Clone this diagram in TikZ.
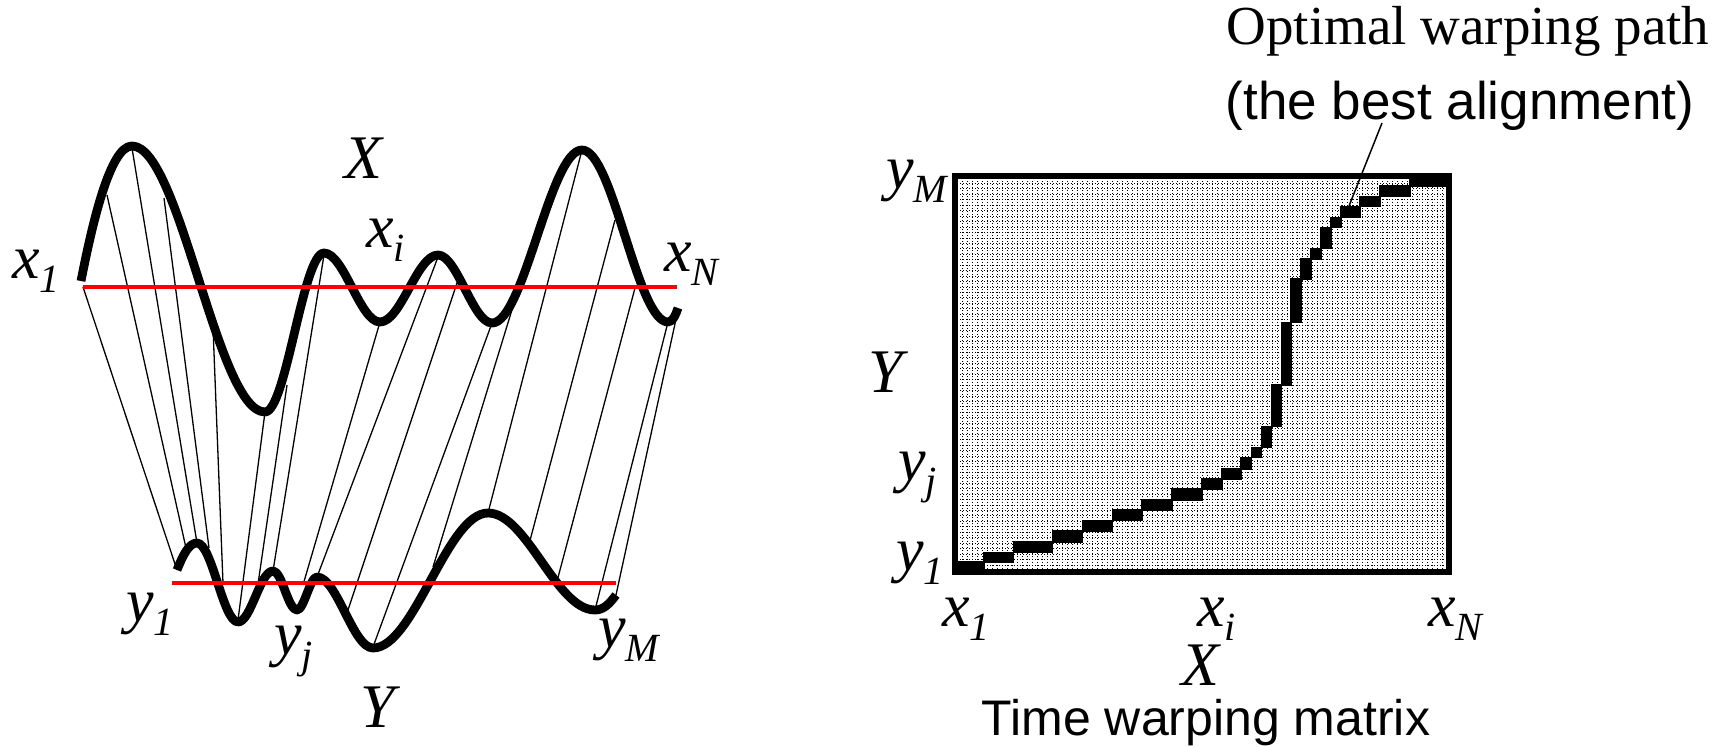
\documentclass[tikz,border=0pt]{standalone}
\usepackage{fontspec}
\setmainfont{Liberation Serif}
\newfontfamily\arialfam{Liberation Sans}
\newcommand\sbs[1]{\raisebox{-14pt}{\fontsize{40}{40}\selectfont #1}}
\begin{document}
\begin{tikzpicture}[x=1pt,y=-1pt,
  curve/.style={line width=8.8pt, line cap=butt, line join=round},
  link/.style={line width=1.3pt},
  redline/.style={red, line width=3.8pt},
  lab/.style={inner sep=0pt, anchor=base west, font=\fontsize{62}{62}\selectfont\itshape},
  dotline/.style={line width=0.9pt, dash pattern=on 0.9pt off 2.1pt},
  frame/.style={line width=6pt},
  cell/.style={fill=black},
  leader/.style={line width=1.5pt},
  serifcap/.style={inner sep=0pt, anchor=base, font=\fontsize{55}{55}\selectfont},
  sanscap/.style={inner sep=0pt, anchor=base, font=\arialfam\fontsize{53}{53}\selectfont}]
\useasboundingbox (0,0) rectangle (1733,747);

% ---------- left panel: links ----------
\foreach \n/\ax/\ay/\bx/\by in {
  1/83/287/177/570, 2/107/195/186/548, 3/132/148/197/543, 4/164/198/209/548,
  5/213/327/223/583, 6/265/412/238/620, 7/287/385/258/584, 8/324/255/273/571,
  9/380/322/303/585, 10/438/257/317/577, 11/460/274/347/613, 12/492/323/373/647,
  13/515/300/433/567, 14/582/150/488/513, 15/615/220/528/548, 16/635/288/556/585,
  17/668/322/595/610, 18/678/310/616/595}{
  \coordinate (u\n) at (\ax,\ay);
  \coordinate (v\n) at (\bx,\by);
  \draw[link] (u\n) -- (v\n);
}

% ---------- curves ----------
\draw[curve] (81,281) .. controls (92,225) and (110,146) .. (132,146)
 .. controls (180,146) and (217,412) .. (265,412)
 .. controls (286,412) and (303,253) .. (324,253)
 .. controls (344,253) and (360,322) .. (380,322)
 .. controls (401,322) and (417,255) .. (438,255)
 .. controls (457,255) and (473,323) .. (492,323)
 .. controls (524,323) and (550,150) .. (582,150)
 .. controls (613,150) and (637,322) .. (668,322)
 .. controls (673,322) and (676,314) .. (678,308);

\draw[curve] (177,570) .. controls (183,555) and (189,543) .. (197,543)
 .. controls (212,543) and (223,622) .. (238,622)
 .. controls (251,622) and (260,571) .. (273,571)
 .. controls (282,571) and (288,610) .. (297,610)
 .. controls (304,610) and (310,577) .. (317,577)
 .. controls (337,577) and (353,648) .. (373,648)
 .. controls (414,648) and (447,513) .. (488,513)
 .. controls (527,513) and (556,610) .. (595,610)
 .. controls (604,610) and (610,603) .. (616,595);

% ---------- red lines ----------
\coordinate (rxa) at (83,287);
\coordinate (rxb) at (677,287);
\coordinate (rya) at (172,583);
\coordinate (ryb) at (616,583);
\draw[redline] (rxa) -- (rxb);
\draw[redline] (rya) -- (ryb);

% ---------- left labels ----------
\node[lab] (lx1) at (12,278) {x\sbs{1}};
\node[lab] (lxi) at (366,247) {x\sbs{i}};
\node[lab] (lxN) at (664,271) {x\sbs{N}};
\node[lab] (lX) at (344,178) {X};
\node[lab] (ly1) at (126,621) {y\sbs{1}};
\node[lab] (lyj) at (274,654) {y\sbs{j}};
\node[lab] (lyM) at (598,647) {y\sbs{M}};
\node[lab] (lY) at (360,727) {Y};

% ---------- matrix ----------
\begin{scope}
  \clip (957,178) rectangle (1447,570);
  \foreach \i in {0,...,98} \draw[dotline] (957+\i*5,178) -- (957+\i*5,570);
  \foreach \j in {0,...,72} \draw[dotline] (957,178+\j*5.45) -- (1447,178+\j*5.45);
\end{scope}
\foreach \a/\b/\c/\d in {957/561/985/570, 983/552/1014/563, 1013/541/1053/553,
  1052/530/1083/543, 1082/520/1113/532, 1112/509/1143/521, 1141/499/1173/511,
  1171/488/1203/501, 1201/478/1223/490, 1221/468/1242/480, 1240/457/1252/470,
  1251/447/1262/458, 1261/426/1272/448, 1271/384/1282/427, 1281/322/1292/386,
  1290/278/1302/323, 1300/258/1312/280, 1310/248/1322/260, 1320/227/1332/249,
  1330/217/1342/228, 1340/206/1361/218, 1359/196/1381/207, 1379/185/1411/197,
  1409/173/1452/187}
  \fill[cell] (\a,\b) rectangle (\c,\d);
\node[draw, frame, inner sep=0pt, minimum width=494pt, minimum height=396pt] (mat) at (1202,374) {};

% leader
\coordinate (ldt) at (1382,123);
\coordinate (ldb) at (1349,206);
\draw[leader] (ldt) -- (ldb);

% ---------- matrix labels ----------
\node[lab] (myM) at (886,188) {y\sbs{M}};
\node[lab] (mY) at (868,392) {Y};
\node[lab] (myj) at (898,480) {y\sbs{j}};
\node[lab] (my1) at (896,570) {y\sbs{1}};
\node[lab] (mx1) at (942,626) {x\sbs{1}};
\node[lab] (mxi) at (1197,626) {x\sbs{i}};
\node[lab] (mxN) at (1428,626) {x\sbs{N}};
\node[lab] (mX) at (1181,685) {X};

\node[serifcap] (cap1) at (1468,44) {Optimal warping path};
\node[sanscap] (cap2) at (1460,119) {(the best alignment)};
\node[sanscap, font=\arialfam\fontsize{50}{50}\selectfont] (cap3) at (1206,735) {Time warping matrix};
\end{tikzpicture}
\end{document}
